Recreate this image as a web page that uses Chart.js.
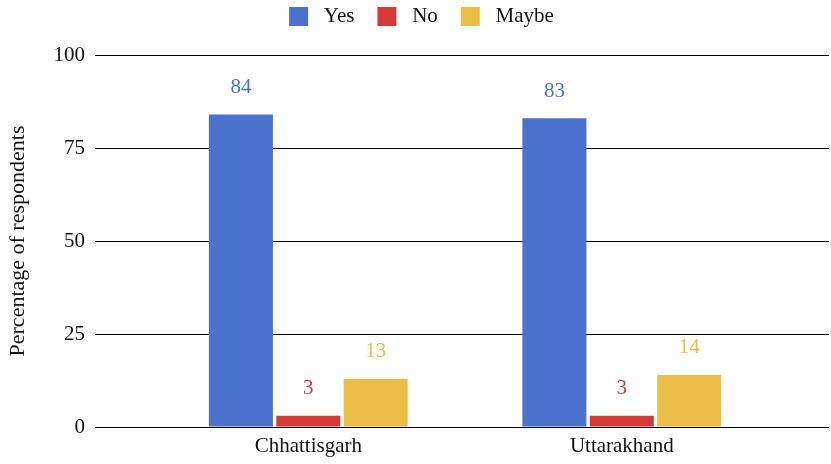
<!DOCTYPE html>
<html>
<head>
<meta charset="utf-8">
<script src="https://cdn.jsdelivr.net/npm/chart.js@4/dist/chart.umd.min.js"></script>
<style>
html,body{margin:0;padding:0;background:#fff;}
#wrap{width:831px;height:464px;position:relative;}
</style>
</head>
<body>
<div id="wrap"><canvas id="c" width="831" height="464"></canvas></div>
<script>
const categories = ["Chhattisgarh", "Uttarakhand"];
const yesValues = [84, 83];
const noValues = [3, 3];
const maybeValues = [13, 14];
const yTicks = [0, 25, 50, 75, 100];
const seriesNames = ["Yes", "No", "Maybe"];
const seriesColors = ["#4a72cc", "#d33a35", "#ecbe47"];

const FONT = "'Liberation Serif', 'Times New Roman', serif";
const TEXT = '#111';

function toPoints(arr){ return arr.map((v,i)=>({x:i, y:v})); }

const labelPlugin = {
  id: 'barLabels',
  afterDatasetsDraw(chart){
    const ctx = chart.ctx;
    ctx.save();
    ctx.font = "21px " + FONT;
    ctx.textAlign = 'center';
    ctx.textBaseline = 'middle';
    chart.data.datasets.forEach((ds, di)=>{
      const meta = chart.getDatasetMeta(di);
      meta.data.forEach((bar, i)=>{
        ctx.fillStyle = ds.backgroundColor;
        ctx.fillText(String(ds.data[i].y), bar.x, bar.y - 27);
      });
    });
    ctx.restore();
  }
};

const legendShift = {
  id: 'legendShift',
  afterLayout(chart){
    if (chart.legend) {
      chart.legend.top -= 18;
      chart.legend.bottom -= 18;
      chart.legend.left += 7;
      chart.legend.right += 7;
    }
  }
};

new Chart(document.getElementById('c'), {
  type: 'bar',
  data: {
    datasets: [
      {label: seriesNames[0], data: toPoints(yesValues), backgroundColor: seriesColors[0]},
      {label: seriesNames[1], data: toPoints(noValues), backgroundColor: seriesColors[1]},
      {label: seriesNames[2], data: toPoints(maybeValues), backgroundColor: seriesColors[2]}
    ]
  },
  options: {
    responsive: false,
    animation: false,
    devicePixelRatio: 1,
    categoryPercentage: 0.645,
    barPercentage: 0.95,
    layout: {padding: {left: 0, right: 2, top: 1, bottom: 0}},
    plugins: {
      legend: {
        position: 'top',
        labels: {
          font: {family: FONT, size: 21},
          color: TEXT,
          boxWidth: 19,
          boxHeight: 19,
          padding: 23,
          generateLabels(chart){
            return chart.data.datasets.map((ds, i)=>({
              text: ' ' + ds.label,
              fillStyle: ds.backgroundColor,
              strokeStyle: ds.backgroundColor,
              lineWidth: 0,
              fontColor: TEXT,
              hidden: false,
              datasetIndex: i
            }));
          }
        }
      },
      tooltip: {enabled: false}
    },
    scales: {
      x: {
        type: 'linear',
        min: -0.6805,
        max: 1.661,
        offset: false,
        grid: {display: false, drawTicks: false, tickLength: 0},
        border: {display: false},
        afterBuildTicks(scale){ scale.ticks = categories.map((c,i)=>({value:i})); },
        ticks: {
          font: {family: FONT, size: 21},
          color: TEXT,
          padding: 7,
          autoSkip: false,
          maxRotation: 0,
          callback: (v)=> categories[v]
        },
        afterFit(scale){ scale.height = 37; }
      },
      y: {
        min: 0,
        max: 100,
        afterBuildTicks(scale){ scale.ticks = yTicks.map(v=>({value:v})); },
        grid: {color: '#000', lineWidth: 1, drawTicks: false, tickLength: 0},
        border: {display: false},
        ticks: {
          font: {family: FONT, size: 21},
          color: TEXT,
          padding: 10
        },
        title: {
          display: true,
          text: 'Percentage of respondents',
          font: {family: FONT, size: 22},
          color: TEXT,
          padding: {top: 5, bottom: 10}
        },
        afterFit(scale){ scale.width = 95; }
      }
    }
  },
  plugins: [labelPlugin, legendShift]
});
</script>
</body>
</html>
